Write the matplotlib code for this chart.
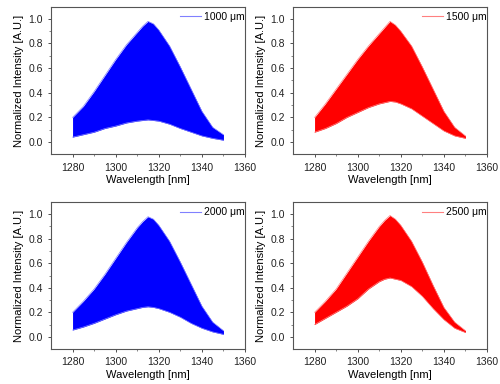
import numpy as np
import matplotlib.pyplot as plt

plt.rcParams['font.family'] = ['Liberation Sans', 'DejaVu Sans']
plt.rcParams['font.size'] = 7.5

# 파장 (nm)
wl = [1280, 1285, 1290, 1295, 1300, 1305, 1310, 1312.5, 1315, 1317.5, 1320,
      1325, 1330, 1335, 1340, 1345, 1350]

# 1000 um
up_1000 = [0.20, 0.29, 0.41, 0.54, 0.67, 0.79, 0.89, 0.94, 0.98, 0.96, 0.91,
           0.78, 0.61, 0.43, 0.25, 0.12, 0.06]
lo_1000 = [0.04, 0.06, 0.08, 0.11, 0.13, 0.155, 0.17, 0.175, 0.18, 0.175, 0.17,
           0.145, 0.11, 0.08, 0.05, 0.03, 0.015]
# 1500 um
up_1500 = [0.20, 0.31, 0.43, 0.55, 0.67, 0.78, 0.88, 0.93, 0.98, 0.95, 0.90,
           0.78, 0.61, 0.43, 0.25, 0.12, 0.05]
lo_1500 = [0.08, 0.11, 0.15, 0.20, 0.24, 0.28, 0.31, 0.32, 0.33, 0.325, 0.31,
           0.27, 0.21, 0.15, 0.09, 0.05, 0.03]
# 2000 um
up_2000 = [0.20, 0.29, 0.39, 0.51, 0.64, 0.77, 0.89, 0.94, 0.98, 0.96, 0.91,
           0.78, 0.61, 0.43, 0.25, 0.12, 0.05]
lo_2000 = [0.055, 0.08, 0.11, 0.145, 0.18, 0.21, 0.23, 0.24, 0.245, 0.24, 0.23,
           0.20, 0.16, 0.11, 0.07, 0.04, 0.02]
# 2500 um
up_2500 = [0.20, 0.29, 0.39, 0.52, 0.65, 0.78, 0.90, 0.95, 0.99, 0.96, 0.91,
           0.78, 0.61, 0.42, 0.24, 0.12, 0.05]
lo_2500 = [0.10, 0.15, 0.20, 0.25, 0.31, 0.39, 0.45, 0.47, 0.48, 0.47, 0.46,
           0.41, 0.33, 0.23, 0.14, 0.07, 0.035]

labels = ['1000 \u03bcm', '1500 \u03bcm', '2000 \u03bcm', '2500 \u03bcm']
uppers = [up_1000, up_1500, up_2000, up_2500]
lowers = [lo_1000, lo_1500, lo_2000, lo_2500]
colors = ['#0000ff', '#ff0000', '#0000ff', '#ff0000']
light = ['#8080ff', '#ff8080', '#8080ff', '#ff8080']

positions = [[0.102, 0.598, 0.388, 0.385],
             [0.586, 0.598, 0.388, 0.385],
             [0.102, 0.091, 0.388, 0.383],
             [0.586, 0.091, 0.388, 0.383]]

fig = plt.figure(figsize=(5, 3.84), dpi=100)

for i in range(4):
    ax = fig.add_axes(positions[i])
    ax.fill_between(wl, lowers[i], uppers[i], color=colors[i], linewidth=0)
    ax.plot(wl, uppers[i], color=light[i], linewidth=0.5)
    ax.plot(wl, lowers[i], color=light[i], linewidth=0.5)
    ax.plot([], [], color=light[i], linewidth=0.8, label=labels[i])
    ax.set_xlim(1270, 1360)
    ax.set_ylim(-0.1, 1.1)
    ax.set_xticks([1280, 1300, 1320, 1340, 1360])
    ax.set_yticks([0.0, 0.2, 0.4, 0.6, 0.8, 1.0])
    ax.set_xticks(np.arange(1290, 1360, 20), minor=True)
    ax.set_yticks(np.arange(0.1, 1.1, 0.2), minor=True)
    ax.tick_params(which='major', length=2.5, width=0.6, colors='#333333', labelcolor='#222222')
    ax.tick_params(which='minor', length=1.5, width=0.5, colors='#555555')
    for sp in ax.spines.values():
        sp.set_color('#555555')
        sp.set_linewidth(0.8)
    ax.set_xlabel('Wavelength [nm]', fontsize=8, labelpad=2)
    ax.set_ylabel('Normalized Intensity [A.U.]', fontsize=8, labelpad=3)
    ax.legend(loc='upper right', bbox_to_anchor=(1.04, 1.02), frameon=False,
              handlelength=2.0, handletextpad=0.3, fontsize=7.5, borderpad=0.3)

plt.savefig('out.png', dpi=100)
